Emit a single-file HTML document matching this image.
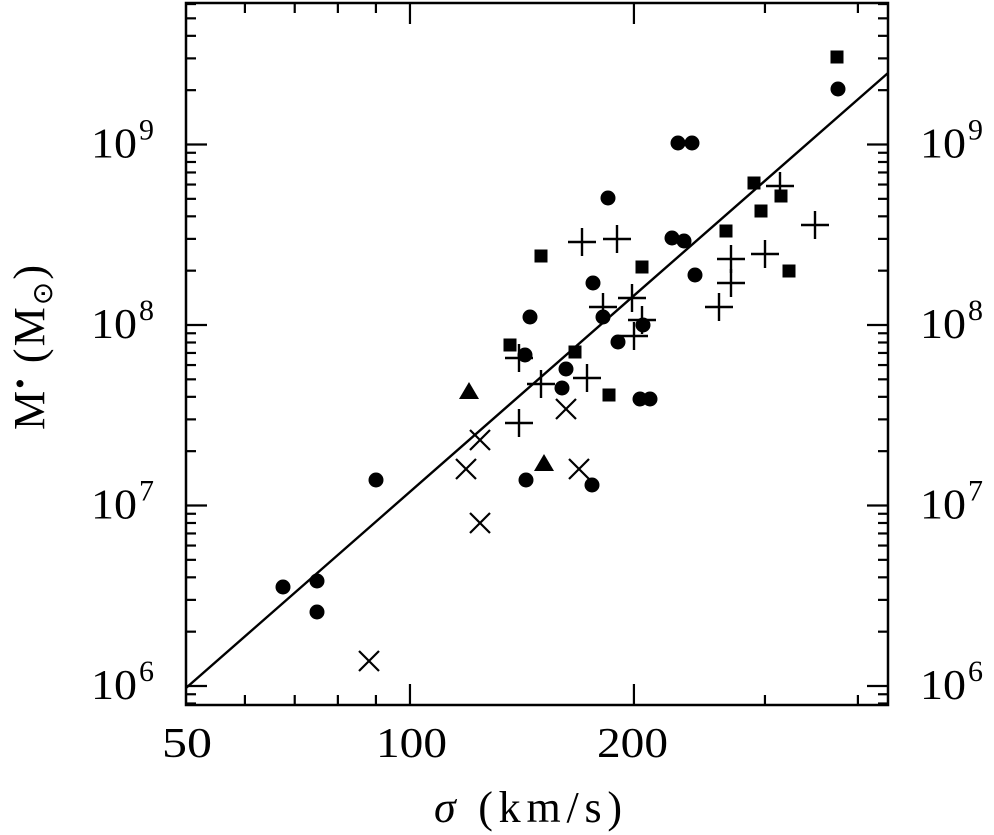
<!DOCTYPE html>
<html><head><meta charset="utf-8"><style>
html,body{margin:0;padding:0;background:#fff;}
svg{display:block;}
text{font-family:"Liberation Serif",serif;fill:#000;}
</style></head><body>
<svg width="994" height="835" viewBox="0 0 994 835" xmlns="http://www.w3.org/2000/svg">
<g id="frame" stroke="#000" stroke-width="2.5" fill="none">
<rect x="186" y="3" width="702" height="702"/>
</g>
<g stroke="#000" stroke-width="2.2" id="ticks"></g>
<line x1="186" y1="688" x2="888" y2="73" stroke="#000" stroke-width="2.4"/>
<g id="pts" fill="#000" stroke="#000"></g>
<g font-size="42">
<text x="162" y="757" textLength="50" lengthAdjust="spacingAndGlyphs">50</text>
<text x="376" y="757" textLength="71" lengthAdjust="spacingAndGlyphs">100</text>
<text x="597" y="757" textLength="71" lengthAdjust="spacingAndGlyphs">200</text>
<text x="434" y="822" font-size="44" textLength="188" lengthAdjust="spacing"><tspan font-style="italic">σ</tspan>  (km/s)</text>
<g id="ylab"></g>
<text transform="translate(44,430) rotate(-90)" font-size="44" textLength="165" lengthAdjust="spacing">M<tspan font-size="30" dy="-14">•</tspan><tspan dy="14"> (M</tspan><tspan font-size="28" dy="8">⊙</tspan><tspan dy="-8">)</tspan></text>
</g>
</svg>
<script>
var NS="http://www.w3.org/2000/svg";
function el(p,n,a){var e=document.createElementNS(NS,n);for(var k in a)e.setAttribute(k,a[k]);p.appendChild(e);return e;}
var T=document.getElementById('ticks');
function X(s){return 186+744*Math.log10(s/50);}
function Y(l){return 144.5+180.5*(9-l);}
[60,70,80,90,100,200,300,400].forEach(function(s){var x=X(s),L=(s==100||s==200)?21:10;
el(T,'line',{x1:x,y1:705,x2:x,y2:705-L});el(T,'line',{x1:x,y1:3,x2:x,y2:3+L});});
for(var d=5;d<=9;d++){for(var m=1;m<=9;m++){var y=Y(d+Math.log10(m));if(y<3||y>705)continue;var L=m==1?21:10;
el(T,'line',{x1:186,y1:y,x2:186+L,y2:y});el(T,'line',{x1:888,y1:y,x2:888-L,y2:y});}}
var yl=document.getElementById('ylab');
[6,7,8,9].forEach(function(d){var y=Y(d)+13;
[91,920].forEach(function(x0){var t=el(yl,'text',{x:x0,y:y});
t.innerHTML='<tspan textLength="46" lengthAdjust="spacingAndGlyphs">10</tspan><tspan font-size="30" dx="2" dy="-18">'+d+'</tspan>';});});
var P=document.getElementById('pts');
var C=[[283,587],[317,581],[317,612],[376,480],[526,480],[592,485],[608,198],[672,238],[684,241],[695,275],[593,283],[530,317],[603,317],[643,325],[618,342],[525,355],[566,369],[562,388],[640,399],[650,399],[678,143],[692,143],[838,89]];
C.forEach(function(p){el(P,'circle',{cx:p[0],cy:p[1],r:7.5,stroke:'none'});});
var S=[[541,256],[642,267],[510,345],[575,352],[609,395],[754,183],[781,196],[761,211],[726,231],[789,271],[837,57]];
S.forEach(function(p){el(P,'rect',{x:p[0]-6.5,y:p[1]-6.5,width:13,height:13,stroke:'none'});});
[[469,391],[544,463]].forEach(function(p){el(P,'polygon',{points:(p[0]-10)+','+(p[1]+8)+' '+(p[0]+10)+','+(p[1]+8)+' '+p[0]+','+(p[1]-9),stroke:'none'});});
var PL=[[582,242],[617,239],[603,307],[632,298],[642,320],[634,336],[519,358],[541,384],[587,378],[519,423],[780,186],[815,225],[765,254],[731,259],[731,283],[719,307]];
PL.forEach(function(p){el(P,'line',{x1:p[0]-14,y1:p[1],x2:p[0]+14,y2:p[1],'stroke-width':2.4});el(P,'line',{x1:p[0],y1:p[1]-14,x2:p[0],y2:p[1]+14,'stroke-width':2.4});});
var XC=[[566,409],[480,440],[466,469],[480,523],[579,469],[369,661]];
XC.forEach(function(p){el(P,'line',{x1:p[0]-10,y1:p[1]-10,x2:p[0]+10,y2:p[1]+10,'stroke-width':2.2});el(P,'line',{x1:p[0]-10,y1:p[1]+10,x2:p[0]+10,y2:p[1]-10,'stroke-width':2.2});});
</script>
</body></html>
